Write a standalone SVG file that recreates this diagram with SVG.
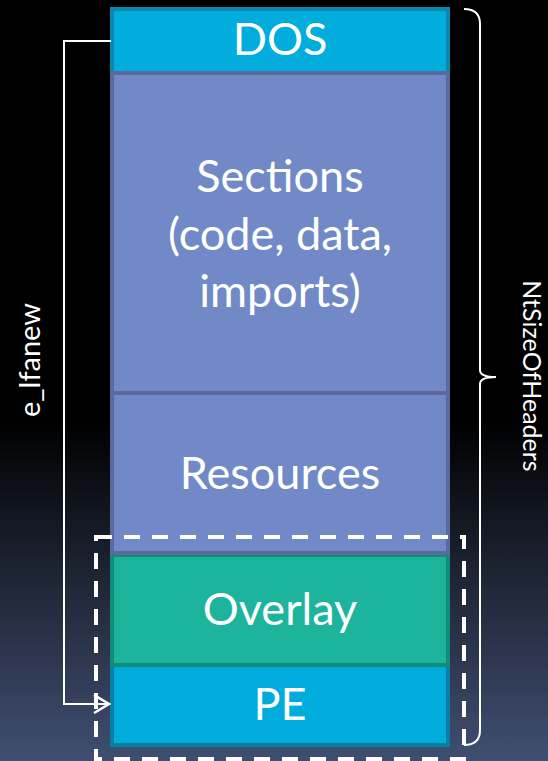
<svg xmlns="http://www.w3.org/2000/svg" width="548" height="761" viewBox="0 0 548 761">
<defs>
<linearGradient id="bg" x1="0" y1="0" x2="0" y2="1">
<stop offset="0" stop-color="#000"/>
<stop offset="0.55" stop-color="#000"/>
<stop offset="1" stop-color="#404f71"/>
</linearGradient>
<marker id="arr" markerUnits="userSpaceOnUse" markerWidth="20" markerHeight="22" refX="16" refY="10" orient="auto" viewBox="0 0 20 22">
<path d="M1,1 L16,10 L1,19" fill="none" stroke="#fff" stroke-width="2.5"/>
</marker>
<style>
.lbl{font-family:Lato,"Liberation Sans",sans-serif;fill:#fff;text-anchor:middle}
.big{font-size:45px}
.side{font-size:25px}
.line{fill:none;stroke:#fff;stroke-width:2}
</style>
</defs>
<rect x="0" y="0" width="548" height="761" fill="url(#bg)"/>
<g id="dos">
<rect x="112" y="9" width="336" height="64" fill="#00addc" stroke="#0a88ad" stroke-width="4"/>
<text class="lbl big" x="280" y="55">DOS</text>
</g>
<g id="pe">
<rect x="112" y="665" width="336" height="80" fill="#00acdc" stroke="#0a7fa3" stroke-width="4"/>
<text class="lbl big" x="280" y="720">PE</text>
</g>
<g id="overlay">
<rect x="112" y="555" width="336" height="110" fill="#1cb49d" stroke="#138b7b" stroke-width="4"/>
<text class="lbl big" x="280" y="625">Overlay</text>
</g>
<g id="resources">
<rect x="112" y="393" width="336" height="160" fill="#7189c6" stroke="#5a6a9e" stroke-width="4"/>
<text class="lbl big" x="280" y="489">Resources</text>
</g>
<g id="sections">
<rect x="112" y="73" width="336" height="320" fill="#7189c6" stroke="#5a6a9e" stroke-width="4"/>
<text class="lbl big" x="280" y="192">Sections</text>
<text class="lbl big" x="280" y="250">(code, data,</text>
<text class="lbl big" x="280" y="307">imports)</text>
</g>
<g id="overlay-region">
<rect x="96" y="537" width="368" height="222" fill="none" stroke="#fff" stroke-width="4" stroke-dasharray="16 12"/>
</g>
<g id="connectors">
<path class="line" d="M111,41 H64 V704 H109" marker-end="url(#arr)"/>
<path class="line" d="M464,9 Q480,9 480,24 V370 Q480,377 496,377 Q480,377 480,384 V730 Q480,745 464,745"/>
</g>
<g id="labels">
<text class="lbl side" style="font-size:29px" transform="translate(40,360) rotate(-90)">e_lfanew</text>
<text class="lbl side" transform="translate(523,376) rotate(90)">NtSizeOfHeaders</text>
</g>
</svg>
